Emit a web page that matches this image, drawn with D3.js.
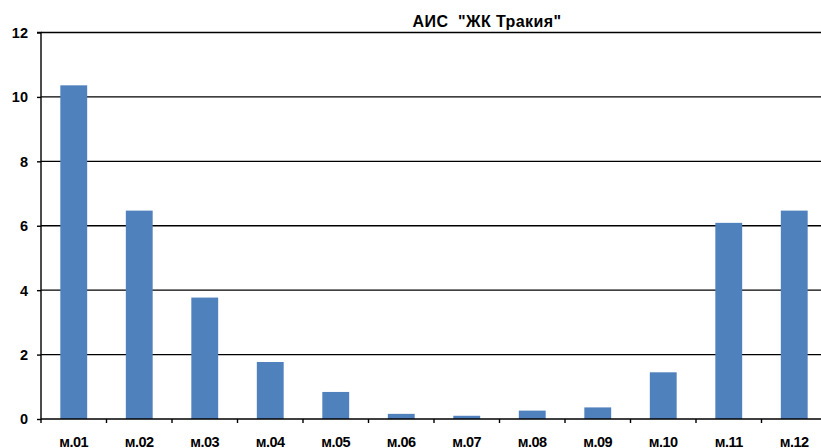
<!DOCTYPE html>
<html><head><meta charset="utf-8">
<script src="https://cdn.jsdelivr.net/npm/d3@7"></script>
<style>body{margin:0;background:#fff}svg{display:block}</style>
</head><body>
<script>
const categories = ["м.01","м.02","м.03","м.04","м.05","м.06","м.07","м.08","м.09","м.10","м.11","м.12"];
const values = [10.36, 6.47, 3.77, 1.77, 0.84, 0.16, 0.10, 0.26, 0.36, 1.45, 6.09, 6.47];
const yTicks = [0, 2, 4, 6, 8, 10, 12];
const title = "АИС  \"ЖК Тракия\"";

const W = 821, H = 448;
const m = {left: 41, right: 827, top: 32.5, bottom: 419};
const svg = d3.select("body").append("svg").attr("width", W).attr("height", H);

const x = d3.scaleBand().domain(categories).range([m.left, m.right]).paddingInner(0.59).paddingOuter(0.295);
const xb = d3.scaleBand().domain(categories).range([m.left, m.right]);
const y = d3.scaleLinear().domain([0, 12]).range([m.bottom, m.top]);
const font = "Liberation Sans, Arial, sans-serif";

// gridlines
svg.append("g").selectAll("line").data(yTicks.filter(d => d > 0)).join("line")
  .attr("x1", m.left).attr("x2", m.right)
  .attr("y1", d => y(d)).attr("y2", d => y(d))
  .attr("stroke", "#000").attr("stroke-width", 1.4);

// bars
svg.append("g").selectAll("rect").data(values).join("rect")
  .attr("x", (d, i) => x(categories[i]))
  .attr("width", x.bandwidth())
  .attr("y", d => y(d))
  .attr("height", d => y(0) - y(d))
  .attr("fill", "#4F81BD");

// y axis
const ya = svg.append("g").attr("transform", `translate(${m.left},0)`)
  .call(d3.axisLeft(y).tickValues(yTicks).tickSize(4).tickPadding(9).tickFormat(d3.format("d")));
ya.select(".domain").attr("stroke", "#000").attr("stroke-width", 1.4).attr("d", `M-4,${m.top}H0V${m.bottom}`);
ya.selectAll(".tick line").attr("stroke", "#000").attr("stroke-width", 1.4);
ya.selectAll(".tick text").style("font-family", font)
  .style("font-size", "14.5px").style("font-weight", "bold").attr("fill", "#000").attr("dy", "0.34em");

// x axis
const xg = svg.append("g").attr("transform", `translate(0,${m.bottom})`);
xg.append("line").attr("x1", m.left).attr("x2", m.right).attr("stroke", "#000").attr("stroke-width", 1.7);
xg.selectAll("line.t").data(categories).join("line").attr("class", "t")
  .attr("x1", d => xb(d)).attr("x2", d => xb(d)).attr("y1", 0).attr("y2", 4)
  .attr("stroke", "#000").attr("stroke-width", 1.4);
xg.selectAll("text").data(categories).join("text")
  .attr("x", d => xb(d) + xb.bandwidth() / 2).attr("y", 27.5)
  .attr("text-anchor", "middle")
  .style("font-family", font)
  .style("font-size", "14.5px").style("font-weight", "bold").style("letter-spacing", "-0.5px")
  .text(d => d);

// title
svg.append("text").attr("x", 487).attr("y", 26.5).attr("text-anchor", "middle")
  .style("font-family", font).style("white-space", "pre")
  .style("font-size", "16px").style("font-weight", "bold").style("letter-spacing", "0.4px")
  .text(title);
</script>
</body></html>
